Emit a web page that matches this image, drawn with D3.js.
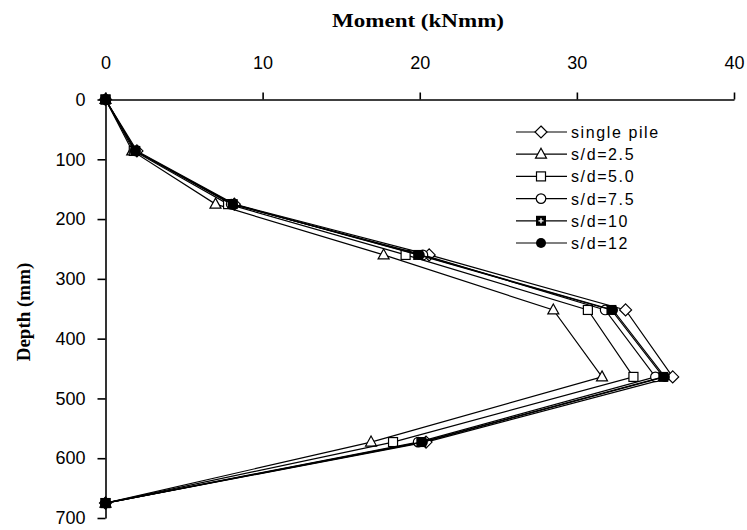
<!DOCTYPE html>
<html><head><meta charset="utf-8">
<script src="https://cdn.jsdelivr.net/npm/d3@7"></script>
<style>body{margin:0;background:#fff}svg{display:block}</style>
</head><body>
<svg id="c" width="747" height="530"></svg>
<script>
const depths = [0, 86, 175, 260, 352, 464, 573, 675];
const seriesNames = ["single pile", "s/d=2.5", "s/d=5.0", "s/d=7.5", "s/d=10", "s/d=12"];
const singlePile = [0, 2.0, 8.2, 20.6, 33.1, 36.1, 20.4, 0];
const sd25 = [0, 1.7, 7.0, 17.7, 28.5, 31.6, 16.9, 0];
const sd50 = [0, 1.8, 7.8, 19.1, 30.7, 33.6, 18.3, 0];
const sd75 = [0, 1.9, 8.0, 20.2, 31.8, 35.0, 19.9, 0];
const sd10 = [0, 1.9, 8.1, 19.9, 32.2, 35.5, 20.1, 0];
const sd12 = [0, 1.9, 8.1, 20.0, 32.3, 35.6, 20.2, 0];
const xTicks = [0, 10, 20, 30, 40];
const yTicks = [0, 100, 200, 300, 400, 500, 600, 700];

const seriesVals = [singlePile, sd25, sd50, sd75, sd10, sd12];
const markers = ["diamond", "triangle", "square", "circle", "squarePlus", "dot"];

const svg = d3.select("#c");
const x = d3.scaleLinear().domain([0, 40]).range([105.5, 734]);
const y = d3.scaleLinear().domain([0, 700]).range([99.5, 518]);

const tickFont = "'Liberation Sans Narrow','Arial Narrow','Liberation Sans',Arial,sans-serif";

const gx = svg.append("g").attr("transform", "translate(0,99.5)")
  .call(d3.axisTop(x).tickValues(xTicks).tickSize(7).tickPadding(24).tickSizeOuter(0));
const gy = svg.append("g").attr("transform", "translate(105.5,0)")
  .call(d3.axisLeft(y).tickValues(yTicks).tickSize(8).tickPadding(12).tickSizeOuter(0));
[gx, gy].forEach(g => {
  g.selectAll("path,line").attr("stroke", "#000").attr("stroke-width", 1.6);
  g.selectAll("text").attr("fill", "#000").style("font-family", tickFont).style("font-size", "18px");
});

svg.append("text").attr("x", 418).attr("y", 27).attr("text-anchor", "middle")
  .style("font-family", "'Liberation Serif','Times New Roman',serif").style("font-weight", "bold")
  .style("font-size", "19px").attr("textLength", 172).attr("lengthAdjust", "spacingAndGlyphs")
  .text("Moment (kNmm)");
svg.append("text").attr("transform", "translate(30,312) rotate(-90)").attr("text-anchor", "middle")
  .style("font-family", "'Liberation Serif','Times New Roman',serif").style("font-weight", "bold")
  .style("font-size", "19px").text("Depth (mm)");

function drawMarker(g, type, cx, cy) {
  const s = 9;
  if (type === "diamond") {
    g.append("path").attr("d", `M${cx},${cy-6}L${cx+6},${cy}L${cx},${cy+6}L${cx-6},${cy}Z`)
      .attr("fill", "#fff").attr("stroke", "#000").attr("stroke-width", 1.2);
  } else if (type === "triangle") {
    g.append("path").attr("d", `M${cx},${cy-6}L${cx+5.5},${cy+4}L${cx-5.5},${cy+4}Z`)
      .attr("fill", "#fff").attr("stroke", "#000").attr("stroke-width", 1.2);
  } else if (type === "square") {
    g.append("rect").attr("x", cx - s/2).attr("y", cy - s/2).attr("width", s).attr("height", s)
      .attr("fill", "#fff").attr("stroke", "#000").attr("stroke-width", 1.2);
  } else if (type === "circle") {
    g.append("circle").attr("cx", cx).attr("cy", cy).attr("r", 4.8)
      .attr("fill", "#fff").attr("stroke", "#000").attr("stroke-width", 1.2);
  } else if (type === "squarePlus") {
    g.append("rect").attr("x", cx - s/2 - 0.5).attr("y", cy - s/2 - 0.5).attr("width", s + 1).attr("height", s + 1)
      .attr("fill", "#000");
    g.append("path").attr("d", `M${cx-2.5},${cy}H${cx+2.5}M${cx},${cy-2.5}V${cy+2.5}`)
      .attr("stroke", "#fff").attr("stroke-width", 1.3);
  } else {
    g.append("circle").attr("cx", cx).attr("cy", cy).attr("r", 5).attr("fill", "#000");
  }
}

const line = d3.line().x(d => x(d[0])).y(d => y(d[1]));
const plot = svg.append("g");
seriesVals.forEach((vals, i) => {
  const pts = vals.map((v, j) => [v, depths[j]]);
  const g = plot.append("g");
  g.append("path").attr("d", line(pts)).attr("fill", "none").attr("stroke", "#000").attr("stroke-width", 1.2);
  pts.forEach(p => drawMarker(g, markers[i], x(p[0]), y(p[1])));
});

// legend
const leg = svg.append("g");
seriesNames.forEach((name, i) => {
  const ly = 132 + i * 22.2;
  leg.append("line").attr("x1", 516).attr("x2", 567).attr("y1", ly).attr("y2", ly)
    .attr("stroke", "#000").attr("stroke-width", 1.2);
  drawMarker(leg, markers[i], 541, ly);
  leg.append("text").attr("x", 571).attr("y", ly + 6)
    .style("font-family", "'Liberation Sans',Arial,sans-serif").style("font-size", "16px")
    .style("letter-spacing", "1.6px").text(name);
});
</script>
</body></html>
